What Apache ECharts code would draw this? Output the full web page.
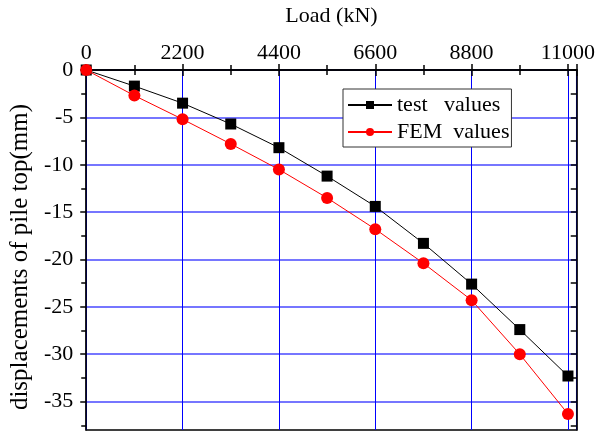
<!DOCTYPE html>
<html lang="en">
<head>
    <meta charset="UTF-8">
    <script type="text/javascript" src="https://cdn.jsdelivr.net/npm/echarts@6/dist/echarts.min.js"></script>
    <title>Load - displacement</title>
    <style>
        html, body { margin: 0; padding: 0; background: #fff; }
    </style>
</head>
<body>
<div id="pileChart" style="width: 598px;height:432px;"></div>
<script type="text/javascript">
    // 荷载 (kN)
    var loads = [0, 1100, 2200, 3300, 4400, 5500, 6600, 7700, 8800, 9900, 11000];
    // 实测值
    var testValues = [0, -1.7, -3.5, -5.7, -8.2, -11.2, -14.4, -18.3, -22.6, -27.4, -32.3];
    // 有限元计算值
    var femValues = [0, -2.7, -5.2, -7.8, -10.5, -13.5, -16.8, -20.4, -24.3, -30.0, -36.3];
    var seriesNames = ['test   values', 'FEM  values'];
    // 刻度
    var yMajorTicks = [0, -5, -10, -15, -20, -25, -30, -35];
    var yMinorTicks = [-2.5, -7.5, -12.5, -17.5, -22.5, -27.5, -32.5, -37.5];

    var font = 'Liberation Serif';
    var black = { color: '#000', width: 1.5 };

    function pairs(xs, ys) {
        return xs.map(function (x, i) { return [x, ys[i]]; });
    }

    var pileChart = echarts.init(document.getElementById('pileChart'));

    pileChart.setOption({
        animation: false,
        textStyle: { fontFamily: font },
        grid: {
            left: 83, top: 66, right: 21, bottom: 2,
            show: true, borderColor: '#000', borderWidth: 1.5
        },
        legend: {
            data: seriesNames,
            orient: 'vertical',
            left: 343, top: 89,
            itemWidth: 44, itemHeight: 10, itemGap: 5,
            padding: [5, 2, 4, 4],
            backgroundColor: '#fff',
            borderColor: '#333', borderWidth: 1,
            textStyle: { fontFamily: font, fontSize: 22, color: '#000' }
        },
        xAxis: [{
            type: 'value',
            position: 'top',
            min: 0, max: 11200, interval: 2200,
            name: 'Load (kN)',
            nameLocation: 'middle',
            nameGap: 43,
            nameTextStyle: { fontFamily: font, fontSize: 22, color: '#000' },
            axisLine: { lineStyle: black },
            axisTick: { inside: true, length: 6, lineStyle: black },
            minorTick: { show: true, splitNumber: 2, length: 5, lineStyle: black },
            axisLabel: {
                fontFamily: font, fontSize: 22, color: '#000', margin: 6, showMaxLabel: false,
                formatter: function (v) { return String(v); }
            },
            splitLine: { lineStyle: { color: '#0000ff', width: 1 } }
        }, {
            type: 'value',
            position: 'bottom',
            min: 0, max: 11200, interval: 2200,
            axisLine: { lineStyle: black },
            axisTick: { inside: true, length: 6, lineStyle: black },
            minorTick: { show: true, splitNumber: 2, length: 5, lineStyle: black },
            axisLabel: { show: false },
            splitLine: { show: false }
        }],
        yAxis: [{
            type: 'value',
            position: 'left',
            min: -38, max: 0,
            name: 'displacements of pile top(mm)',
            nameLocation: 'middle',
            nameRotate: 90,
            nameGap: 51,
            nameTextStyle: { fontFamily: font, fontSize: 25, color: '#000', padding: [0, 14, 0, 0] },
            axisLine: { lineStyle: black },
            axisTick: { inside: false, length: 6, lineStyle: black, customValues: yMajorTicks },
            axisLabel: { fontFamily: font, fontSize: 22, color: '#000', margin: 13, customValues: yMajorTicks },
            splitLine: { lineStyle: { color: 'rgba(60,60,255,0.7)', width: 2 } }
        }, {
            // 左侧次刻度
            type: 'value',
            position: 'left',
            min: -38, max: 0,
            axisLine: { show: false },
            axisTick: { inside: false, length: 5, lineStyle: black, customValues: yMinorTicks },
            axisLabel: { show: false },
            splitLine: { show: false }
        }, {
            type: 'value',
            position: 'right',
            min: -38, max: 0,
            axisLine: { lineStyle: black },
            axisTick: { inside: true, length: 6, lineStyle: black, customValues: yMajorTicks.concat(yMinorTicks) },
            axisLabel: { show: false },
            splitLine: { show: false }
        }],
        series: [{
            name: seriesNames[0],
            type: 'line',
            data: pairs(loads, testValues),
            symbol: 'rect',
            symbolSize: 11,
            itemStyle: { color: '#000' },
            lineStyle: { color: '#000', width: 1 },
            z: 3
        }, {
            name: seriesNames[1],
            type: 'line',
            data: pairs(loads, femValues),
            symbol: 'circle',
            symbolSize: 12,
            itemStyle: { color: '#ff0000' },
            lineStyle: { color: '#ff0000', width: 1 },
            z: 4
        }]
    });
</script>
</body>
</html>
